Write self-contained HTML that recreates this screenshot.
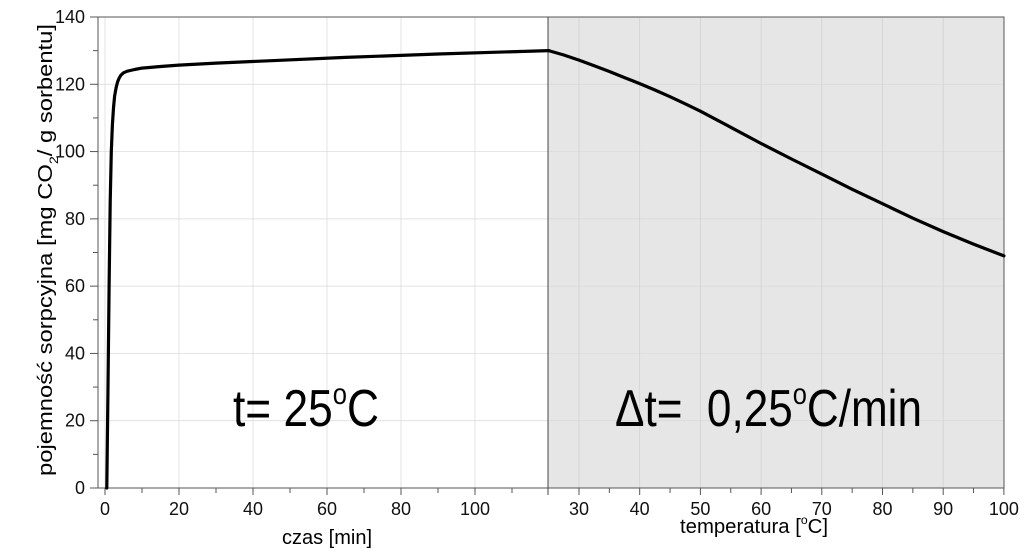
<!DOCTYPE html>
<html><head><meta charset="utf-8">
<style>
html,body{margin:0;padding:0;background:#fff;}
svg{display:block;font-family:"Liberation Sans",sans-serif;}
</style></head>
<body>
<svg id="chart" width="1024" height="554" viewBox="0 0 1024 554" xmlns="http://www.w3.org/2000/svg">
<rect x="548" y="17" width="456" height="471" fill="#e6e6e6"/>
<g id="grid"></g>
<g id="axes"></g>
<g id="series"></g>
<text x="233" y="426" font-size="52" textLength="146" lengthAdjust="spacingAndGlyphs">t= 25<tspan font-size="30" dy="-22">o</tspan><tspan dy="22">C</tspan></text>
<text x="615" y="426" font-size="52" textLength="307" lengthAdjust="spacingAndGlyphs">Δt=&#160; 0,25<tspan font-size="30" dy="-22">o</tspan><tspan dy="22">C/min</tspan></text>
<text x="327" y="544" font-size="20" text-anchor="middle">czas [min]</text>
<text x="680" y="533" font-size="20" textLength="148" lengthAdjust="spacingAndGlyphs">temperatura [<tspan font-size="12" dy="-9">o</tspan><tspan dy="9">C]</tspan></text>
<text transform="translate(52,250) rotate(-90)" font-size="20" text-anchor="middle" textLength="452" lengthAdjust="spacingAndGlyphs">pojemność sorpcyjna [mg CO<tspan font-size="12" dy="6">2</tspan><tspan dy="-6">/ g sorbentu]</tspan></text>
</svg>
<script>
const yTicks=[0,20,40,60,80,100,120,140];
const timeTicks=[0,20,40,60,80,100];
const tempTicks=[30,40,50,60,70,80,90,100];
const timeX=[0.5,0.8,1.1,1.4,1.7,2.0,2.3,2.6,3.0,3.4,3.8,4.3,5.0,6.0,8.0,10,15,20,30,45,65,90,120];
const timeY=[0,30,60,85,100,108,113,116.5,119,120.7,121.8,122.7,123.4,123.9,124.4,124.8,125.3,125.7,126.3,127,128,129,130];
const tempX=[25,27.5,30,32.5,35,37.5,40,42.5,45,47.5,50,55,60,65,70,75,80,85,90,95,100];
const tempY=[130,128.7,127.2,125.5,123.8,122,120.2,118.3,116.3,114.2,112,107.2,102.4,97.8,93.3,88.8,84.5,80.2,76.2,72.5,69];

const L=98,T=17,B=488,R=1004,D=548;
const yS=v=>B-(v/140)*(B-T);
const tS=v=>105+v*3.7;
const cS=v=>579+(v-30)*6.07;
const NS="http://www.w3.org/2000/svg";
function mk(tag,attrs,parent){const e=document.createElementNS(NS,tag);for(const k in attrs)e.setAttribute(k,attrs[k]);parent.appendChild(e);return e;}
const grid=document.getElementById('grid'),axes=document.getElementById('axes'),series=document.getElementById('series');

yTicks.forEach(v=>{
  const y=yS(v);
  if(v>0&&v<140){const g=mk('line',{x1:L,x2:R,y1:y,y2:y,stroke:'#d8d8d8','stroke-width':0.7},grid);
  
  }
  const t=mk('line',{x1:L-8,x2:L,y1:y,y2:y,stroke:'#555','stroke-width':1},axes);
  
  
  const lb=mk('text',{x:L-13,y:y+6,'font-size':18,'text-anchor':'end',fill:'#111'},axes);
  lb.textContent=v;
  
  
  if(v<140){const m=mk('line',{x1:L-5,x2:L,y1:yS(v+10),y2:yS(v+10),stroke:'#555','stroke-width':1},axes);
  
  }
});
timeTicks.forEach(v=>{
  const x=tS(v);
  const g=mk('line',{x1:x,x2:x,y1:T,y2:B,stroke:'#d8d8d8','stroke-width':0.7},grid);
  
  
  const t=mk('line',{x1:x,x2:x,y1:B,y2:B+7,stroke:'#555','stroke-width':1},axes);
  
  
  const m=mk('line',{x1:tS(v+10),x2:tS(v+10),y1:B,y2:B+5,stroke:'#555','stroke-width':1},axes);
  
  
  const lb=mk('text',{x:x,y:B+27,'font-size':18,'text-anchor':'middle',fill:'#111'},axes);
  lb.textContent=v;
  
  
});
tempTicks.forEach(v=>{
  const x=cS(v);
  if(v<100){const g=mk('line',{x1:x,x2:x,y1:T,y2:B,stroke:'#d0d0d0','stroke-width':0.7},grid);
  
  }
  const t=mk('line',{x1:x,x2:x,y1:B,y2:B+7,stroke:'#555','stroke-width':1},axes);
  
  
  if(v<100){const m=mk('line',{x1:cS(v+5),x2:cS(v+5),y1:B,y2:B+5,stroke:'#555','stroke-width':1},axes);
  
  }
  const lb=mk('text',{x:x,y:B+27,'font-size':18,'text-anchor':'middle',fill:'#111'},axes);
  lb.textContent=v;
  
  
});
const frame=mk('rect',{x:L,y:T,width:R-L,height:B-T,fill:'none',stroke:'#555','stroke-width':1},axes);


const dv=mk('line',{x1:D,x2:D,y1:T,y2:B+7,stroke:'#444','stroke-width':1},axes);


const xl=mk('line',{x1:L-8,x2:R,y1:B,y2:B,stroke:'#555','stroke-width':1},axes);



let d='';
timeX.forEach((v,i)=>{d+=(i?'L':'M')+tS(v).toFixed(1)+','+yS(timeY[i]).toFixed(1);});
const p1=mk('path',{d:d,fill:'none',stroke:'#000','stroke-width':3.2,'stroke-linejoin':'round','stroke-linecap':'round'},series);


let d2='';
tempX.forEach((v,i)=>{d2+=(i?'L':'M')+cS(v).toFixed(1)+','+yS(tempY[i]).toFixed(1);});
const p2=mk('path',{d:d2,fill:'none',stroke:'#000','stroke-width':3.2,'stroke-linejoin':'round','stroke-linecap':'round'},series);


</script>
</body></html>
